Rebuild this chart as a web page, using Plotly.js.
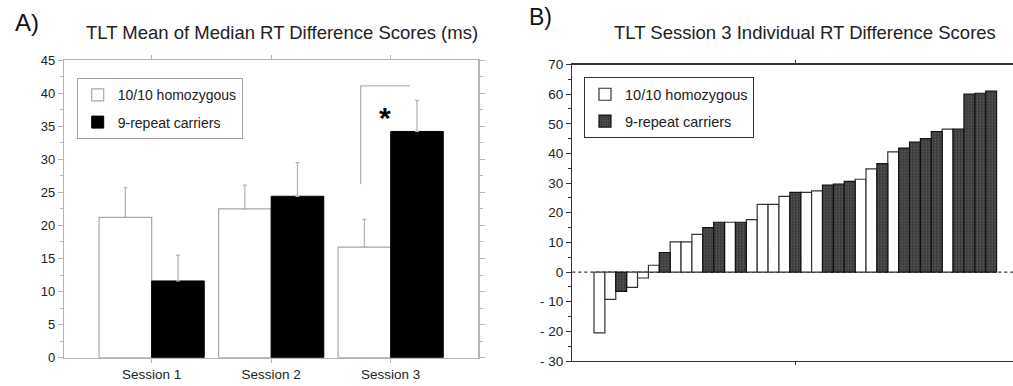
<!DOCTYPE html>
<html>
<head>
<meta charset="utf-8">
<script src="https://cdn.plot.ly/plotly-3.0.1.min.js"></script>
<style>html,body{margin:0;padding:0;background:#fff;}#chart{width:1013px;height:386px;}</style>
</head>
<body>
<div id="chart"></div>
<script>
// ---------- Panel A data ----------
const sessions = ['Session 1', 'Session 2', 'Session 3'];
const homMeans = [21.2, 22.5, 16.7];
const homSE    = [4.5, 3.6, 4.2];
const carMeans = [11.6, 24.4, 34.2];
const carSE    = [3.9, 5.1, 4.7];

// ---------- Panel B data (sorted individual scores) ----------
const subjectScores = [-20.5, -9.2, -6.5, -5.2, -2.0, 2.3, 6.6, 10.2, 10.2, 12.7,
  15.0, 16.8, 16.8, 16.8, 17.7, 22.8, 22.8, 25.5, 26.9, 26.9,
  27.4, 29.3, 29.7, 30.6, 31.3, 34.8, 36.6, 40.5, 41.8, 43.8,
  45.0, 47.4, 48.2, 48.2, 60.0, 60.3, 61.0];
const subjectGroup = ['H','H','C','H','H','H','C','H','H','H',
  'C','C','H','C','H','H','H','H','C','H',
  'H','C','C','C','H','H','C','H','C','C',
  'C','C','H','C','C','C','C'];
const bTickVals = [-30, -20, -10, 0, 10, 20, 30, 40, 50, 60, 70];
const bTickText = ['- 30', '- 20', '- 10', '0', '10', '20', '30', '40', '50', '60', '70'];

const groupNames = {H: '10/10 homozygous', C: '9-repeat carriers'};

const subjIdx = subjectScores.map((_, i) => i + 1);
function pick(g) {
  const xs = [], ys = [];
  subjectScores.forEach((v, i) => { if (subjectGroup[i] === g) { xs.push(subjIdx[i]); ys.push(v); } });
  return {xs, ys};
}
const bH = pick('H'), bC = pick('C');

const FONT = 'Arial, "Liberation Sans", Helvetica, sans-serif';
const gray = '#b4b4b4';
const BW = 0.44;

const traces = [
  {
    type: 'bar', x: sessions, y: homMeans, name: groupNames.H,
    xaxis: 'x', yaxis: 'y', offset: -BW, width: BW,
    marker: {color: '#ffffff', line: {color: '#a8a8a8', width: 1.2}},
    error_y: {type: 'data', symmetric: false, array: homSE, arrayminus: homSE.map(() => 0),
              color: gray, thickness: 1.3, width: 2},
    legend: 'legend', legendgroup: 'a1'
  },
  {
    type: 'bar', x: sessions, y: carMeans, name: groupNames.C,
    xaxis: 'x', yaxis: 'y', offset: 0, width: BW,
    marker: {color: '#000000', line: {color: '#000000', width: 1}},
    error_y: {type: 'data', symmetric: false, array: carSE, arrayminus: carSE.map(() => 0),
              color: gray, thickness: 1.3, width: 2},
    legend: 'legend', legendgroup: 'a2'
  },
  {
    type: 'bar', x: bH.xs, y: bH.ys, name: groupNames.H,
    xaxis: 'x2', yaxis: 'y2', width: 1,
    marker: {color: '#ffffff', line: {color: '#333333', width: 1.2}},
    legend: 'legend2', legendgroup: 'b1'
  },
  {
    type: 'bar', x: bC.xs, y: bC.ys, name: groupNames.C,
    xaxis: 'x2', yaxis: 'y2', width: 1,
    marker: {color: '#4e4e4e', line: {color: '#111111', width: 1.2},
             pattern: {shape: '.', fgcolor: '#2a2a2a', bgcolor: '#5a5a5a', size: 3, solidity: 0.45}},
    legend: 'legend2', legendgroup: 'b2'
  }
];

const W = 1013, H = 386;
const layout = {
  width: W, height: H,
  margin: {l: 0, r: 0, t: 0, b: 0},
  paper_bgcolor: '#ffffff', plot_bgcolor: '#ffffff',
  font: {family: FONT, color: '#222'},
  barmode: 'overlay',
  showlegend: true,
  xaxis: {
    domain: [64.3 / W, 478.3 / W], anchor: 'y', type: 'category',
    range: [-0.731, 2.733],
    showline: true, linecolor: gray, linewidth: 1.3, mirror: 'allticks',
    ticks: 'outside', ticklen: 4, tickcolor: gray,
    tickfont: {size: 13.5, family: FONT, color: '#222'},
    showgrid: false, zeroline: false, fixedrange: true
  },
  yaxis: {
    domain: [(H - 357.7) / H, (H - 60) / H], anchor: 'x',
    range: [0, 45], dtick: 5, tick0: 0,
    showline: true, linecolor: gray, linewidth: 1.5, mirror: 'allticks',
    ticks: 'outside', ticklen: 5, tickcolor: gray,
    minor: {dtick: 2.5, ticks: 'outside', ticklen: 3, tickcolor: gray, showgrid: false},
    tickfont: {size: 13, family: FONT, color: '#222'},
    showgrid: false, zeroline: false, fixedrange: true
  },
  xaxis2: {
    domain: [572.3 / W, 1], anchor: 'y2',
    range: [-1.494, 39.01],
    tickvals: [19], showticklabels: false,
    showline: true, linecolor: '#333', linewidth: 1.3, mirror: 'ticks',
    ticks: 'outside', ticklen: 3, tickcolor: '#333',
    showgrid: false, zeroline: false, fixedrange: true
  },
  yaxis2: {
    domain: [(H - 361) / H, (H - 64.5) / H], anchor: 'x2',
    range: [-30, 70], tickvals: bTickVals, ticktext: bTickText,
    showline: true, linecolor: '#333', linewidth: 1.3,
    ticks: 'outside', ticklen: 5, tickcolor: '#333',
    minor: {dtick: 5, tick0: 0, ticks: 'outside', ticklen: 3, tickcolor: '#333', showgrid: false},
    tickfont: {size: 13.5, family: FONT, color: '#222'},
    showgrid: false, zeroline: false, fixedrange: true
  },
  legend: {
    x: 76.7 / W, y: (H - 78.3) / H, xanchor: 'left', yanchor: 'top',
    bordercolor: '#a0a0a0', borderwidth: 1, bgcolor: '#ffffff',
    font: {size: 14, family: FONT, color: '#222'},
    traceorder: 'grouped', tracegroupgap: 6, itemclick: false
  },
  legend2: {
    x: 584 / W, y: (H - 77.3) / H, xanchor: 'left', yanchor: 'top',
    bordercolor: '#333', borderwidth: 1, bgcolor: '#ffffff',
    font: {size: 14.5, family: FONT, color: '#222'},
    traceorder: 'grouped', tracegroupgap: 5, itemclick: false
  },
  shapes: [
    // significance bracket (panel A)
    {type: 'path', xref: 'x', yref: 'y', path: 'M 1.749 26.2 L 1.749 41.1 L 2.161 41.1',
     line: {color: gray, width: 1.3}},
    // dashed zero reference (panel B)
    {type: 'line', xref: 'x2 domain', yref: 'y2', x0: 0, x1: 1, y0: 0, y1: 0, layer: 'below',
     line: {color: '#333', width: 1.2, dash: '3px,3px'}}
  ],
  annotations: [
    {text: 'A)', xref: 'paper', yref: 'paper', x: 13 / W, y: (H - 23) / H, xanchor: 'left', yanchor: 'middle',
     showarrow: false, font: {size: 24, family: FONT, color: '#111'}},
    {text: 'B)', xref: 'paper', yref: 'paper', x: 527 / W, y: (H - 17) / H, xanchor: 'left', yanchor: 'middle',
     showarrow: false, font: {size: 23, family: FONT, color: '#111'}},
    {text: 'TLT Mean of Median RT Difference Scores (ms)', xref: 'paper', yref: 'paper',
     x: 282.3 / W, y: (H - 33) / H, xanchor: 'center', yanchor: 'middle',
     showarrow: false, font: {size: 18.5, family: FONT, color: '#222'}},
    {text: 'TLT Session 3 Individual RT Difference Scores', xref: 'paper', yref: 'paper',
     x: 805.3 / W, y: (H - 33) / H, xanchor: 'center', yanchor: 'middle',
     showarrow: false, font: {size: 18.5, family: FONT, color: '#222'}},
    {text: '<b>*</b>', xref: 'x', yref: 'y', x: 1.952, y: 36.3, xanchor: 'center', yanchor: 'middle',
     showarrow: false, font: {size: 30, family: FONT, color: '#000'}}
  ]
};

Plotly.newPlot('chart', traces, layout, {staticPlot: true, displayModeBar: false});
</script>
</body>
</html>
